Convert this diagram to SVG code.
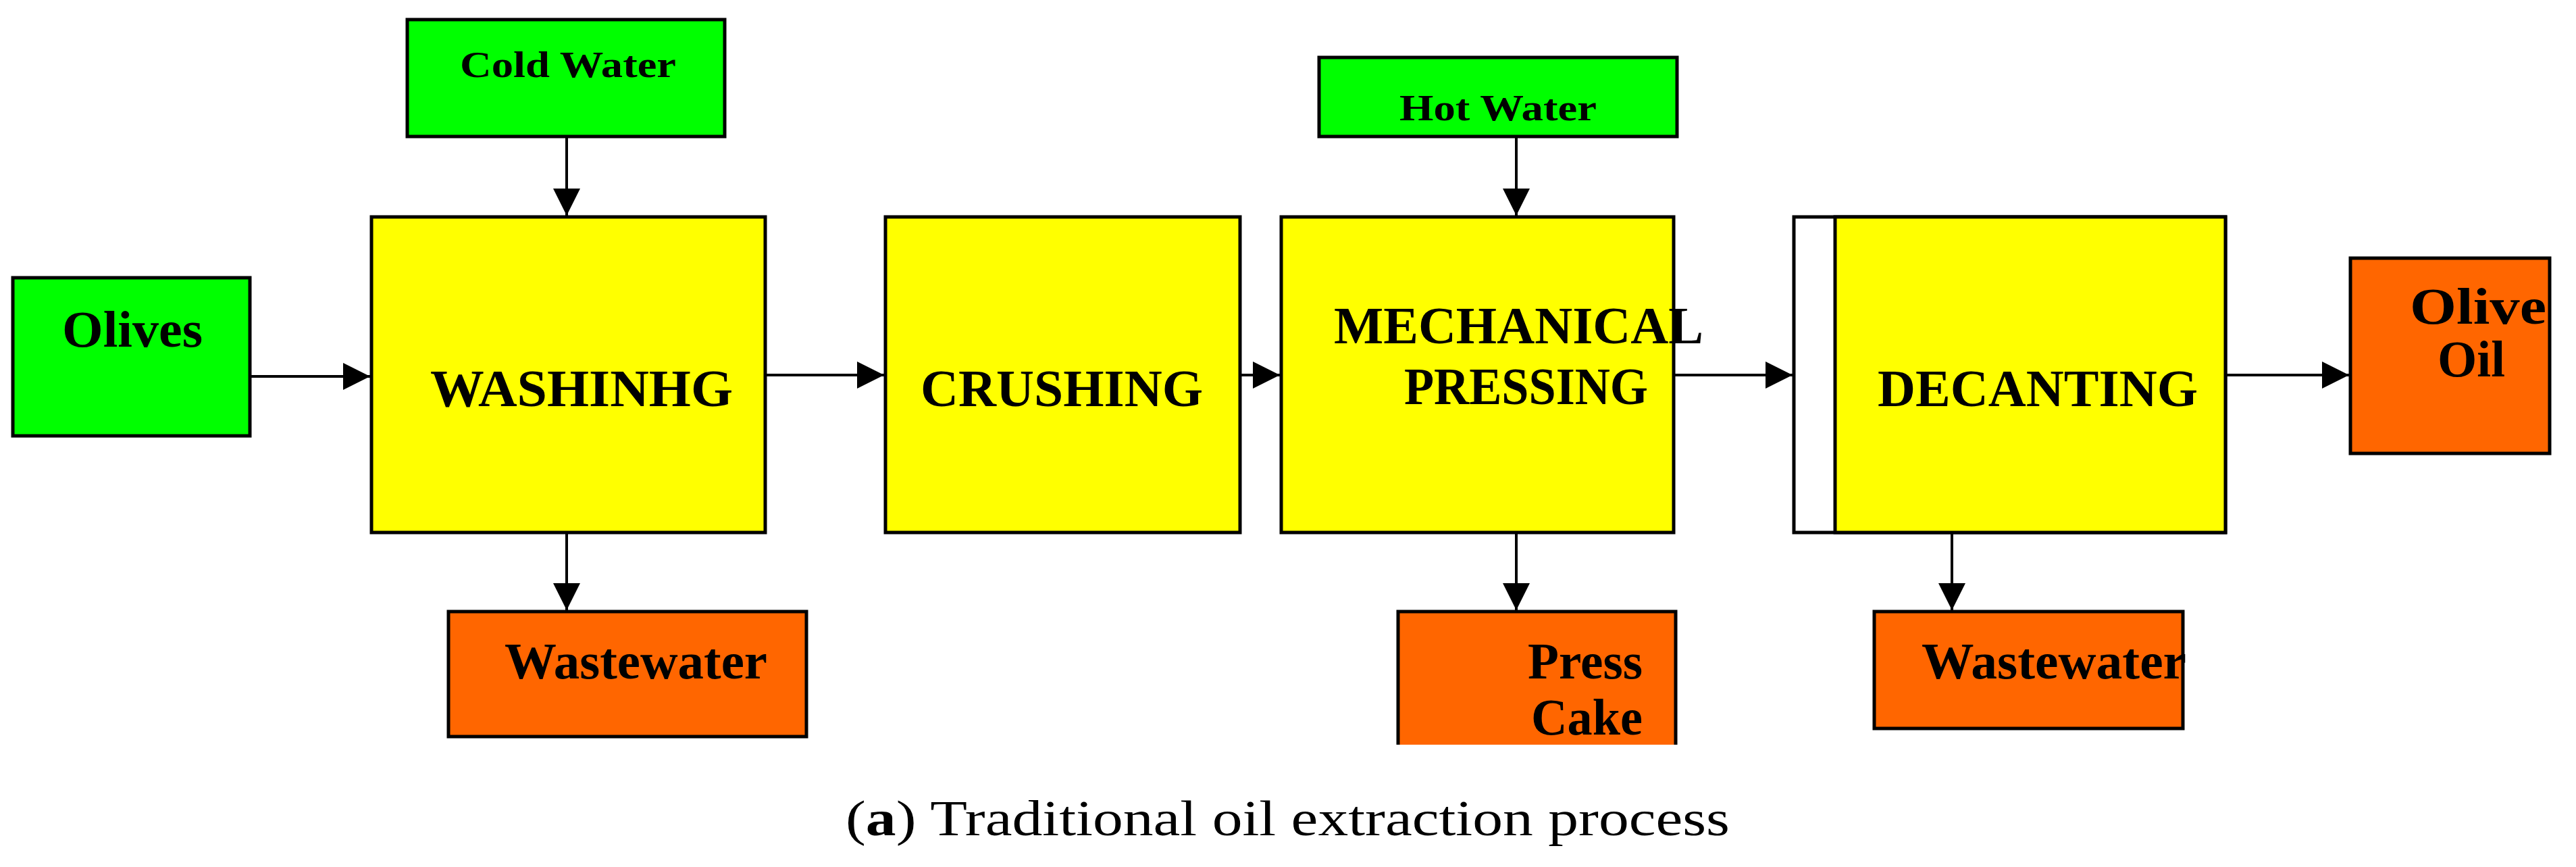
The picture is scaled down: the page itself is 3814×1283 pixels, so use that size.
<svg xmlns="http://www.w3.org/2000/svg" width="3814" height="1283" viewBox="0 0 3814 1283">
<style>
.b{stroke:#000;stroke-width:5}
.g{fill:#00ff00}.y{fill:#ffff00}.o{fill:#ff6600}
.t{font-family:"Liberation Serif",serif;font-weight:bold;fill:#000}
.c{stroke:#000;stroke-width:4;fill:none;marker-end:url(#a)}
</style>
<defs><marker id="a" markerWidth="10" markerHeight="10" refX="10" refY="5" orient="auto" markerUnits="userSpaceOnUse" viewBox="0 0 10 10"><path d="M0,0L10,5L0,10z"/></marker>
<marker id="m" viewBox="0 0 10 10" refX="10" refY="5" markerWidth="40" markerHeight="40" markerUnits="userSpaceOnUse" orient="auto"><path d="M0,0L10,5L0,10z" fill="#000"/></marker></defs>
<rect width="3814" height="1283" fill="#fff"/>
<g id="cold"><rect class="b g" x="603" y="29" width="470" height="173"/><text class="t" x="681" y="114" font-size="55" textLength="320" lengthAdjust="spacingAndGlyphs">Cold Water</text></g>
<g id="olives"><rect class="b g" x="19" y="411" width="351" height="234"/><text class="t" x="92" y="513" font-size="76" textLength="208" lengthAdjust="spacingAndGlyphs">Olives</text></g>
<g id="washing"><rect class="b y" x="550" y="321" width="583" height="467"/><text class="t" x="637" y="601" font-size="78" textLength="448" lengthAdjust="spacingAndGlyphs">WASHINHG</text></g>
<g id="crushing"><rect class="b y" x="1311" y="321" width="525" height="467"/><text class="t" x="1363" y="601" font-size="78" textLength="418" lengthAdjust="spacingAndGlyphs">CRUSHING</text></g>
<g id="hot"><rect class="b g" x="1953" y="85" width="530" height="117"/><text class="t" x="2072" y="178" font-size="55" textLength="292" lengthAdjust="spacingAndGlyphs">Hot Water</text></g>
<g id="mech"><rect class="b y" x="1897" y="321" width="581" height="467"/><text class="t" x="1975" y="508" font-size="78" textLength="547" lengthAdjust="spacingAndGlyphs">MECHANICAL</text><text class="t" x="2079" y="598" font-size="78" textLength="361" lengthAdjust="spacingAndGlyphs">PRESSING</text></g>
<g id="decant"><rect class="b" x="2656" y="321" width="639" height="467" fill="#fff"/><rect class="b y" x="2717" y="321" width="578" height="467"/><text class="t" x="2780" y="601" font-size="78" textLength="474" lengthAdjust="spacingAndGlyphs">DECANTING</text></g>
<g id="oil"><rect class="b o" x="3480" y="382" width="295" height="289"/><text class="t" x="3568" y="479" font-size="76" textLength="202" lengthAdjust="spacingAndGlyphs">Olive</text><text class="t" x="3609" y="557" font-size="76" textLength="100" lengthAdjust="spacingAndGlyphs">Oil</text></g>
<g id="ww1"><rect class="b o" x="664" y="905" width="530" height="185"/><text class="t" x="747" y="1004" font-size="76" textLength="389" lengthAdjust="spacingAndGlyphs">Wastewater</text></g>
<g id="cake"><path class="b o" d="M2070,1102V905H2481V1102"/><text class="t" x="2262" y="1004" font-size="76" textLength="170" lengthAdjust="spacingAndGlyphs">Press</text><text class="t" x="2267" y="1087" font-size="76" textLength="165" lengthAdjust="spacingAndGlyphs">Cake</text></g>
<g id="ww2"><rect class="b o" x="2775" y="905" width="457" height="173"/><text class="t" x="2845" y="1004" font-size="76" textLength="392" lengthAdjust="spacingAndGlyphs">Wastewater</text></g>
<g id="connectors" stroke="#000" stroke-width="4" fill="none" marker-end="url(#m)">
<path d="M839,202V319"/><path d="M370,557H548"/><path d="M1133,555H1309"/><path d="M1836,555H1895"/><path d="M2478,555H2654"/><path d="M3295,555H3478"/>
<path d="M2245,202V319"/><path d="M839,788V903"/><path d="M2245,788V903"/><path d="M2890,788V903"/>
</g>
<text x="1252" y="1236" font-family="Liberation Serif,serif" font-size="74" textLength="1309" lengthAdjust="spacingAndGlyphs">(<tspan font-weight="bold">a</tspan>) Traditional oil extraction process</text>
</svg>
